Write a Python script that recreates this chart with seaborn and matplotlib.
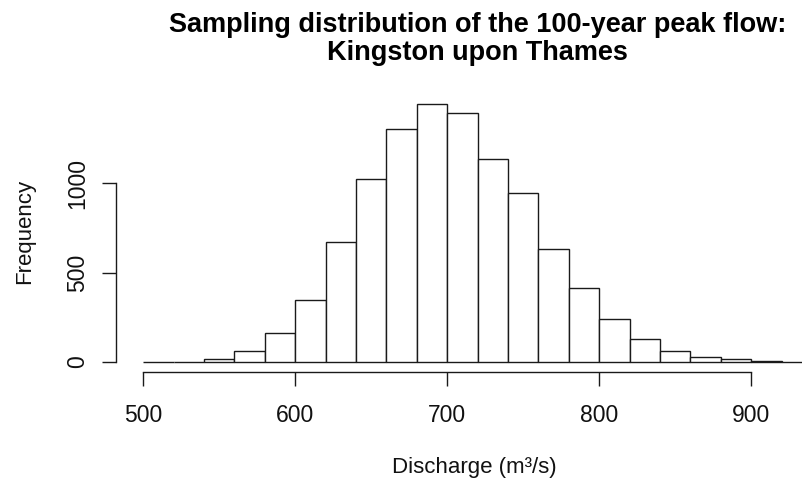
import numpy as np
import pandas as pd
import matplotlib
matplotlib.use("Agg")
import matplotlib.pyplot as plt
import seaborn as sns

# ---- data ----
bin_edges = [500, 520, 540, 560, 580, 600, 620, 640, 660, 680, 700, 720,
             740, 760, 780, 800, 820, 840, 860, 880, 900, 920, 940]
bin_mids = [510, 530, 550, 570, 590, 610, 630, 650, 670, 690, 710,
            730, 750, 770, 790, 810, 830, 850, 870, 890, 910, 930]
counts = [1, 2, 15, 60, 160, 347, 671, 1022, 1302, 1444, 1391,
          1138, 944, 631, 414, 243, 127, 60, 30, 15, 4, 1]
x_ticks = [500, 600, 700, 800, 900]
y_ticks = [0, 500, 1000]
title_text = "Sampling distribution of the 100-year peak flow:\nKingston upon Thames"
x_label = "Discharge (m\u00b3/s)"
y_label = "Frequency"

df = pd.DataFrame({"discharge": bin_mids, "count": counts})

sns.set_theme(style="white")
plt.rcParams["font.family"] = ["Liberation Sans", "DejaVu Sans"]

W, H = 803, 479
fig = plt.figure(figsize=(W / 100, H / 100), dpi=100)
fig.patch.set_facecolor("white")
ax = fig.add_axes([116.5 / W, 1 - 372.3 / H, 722.3 / W, (372.3 - 93.6) / H])

sns.histplot(data=df, x="discharge", weights="count", bins=bin_edges,
             stat="count", color="white", edgecolor="#1a1a1a", linewidth=1.0,
             alpha=1, ax=ax)

xr = bin_edges[-1] - bin_edges[0]
ax.set_xlim(bin_edges[0] - 0.04 * xr, bin_edges[-1] + 0.04 * xr)
ymax = max(counts)
ax.set_ylim(-0.04 * ymax, ymax * 1.04)

for s in ["top", "right"]:
    ax.spines[s].set_visible(False)
for s in ["left", "bottom"]:
    ax.spines[s].set_color("#1a1a1a")
    ax.spines[s].set_linewidth(1.0)
ax.spines["bottom"].set_bounds(x_ticks[0], x_ticks[-1])
ax.spines["left"].set_bounds(y_ticks[0], y_ticks[-1])

ax.set_xticks(x_ticks)
ax.set_yticks(y_ticks)
ax.tick_params(axis="both", direction="out", length=10, width=1.0,
               color="#1a1a1a", labelsize=16.5, labelcolor="#111111",
               bottom=True, left=True)
ax.tick_params(axis="x", pad=12.5)
ax.tick_params(axis="y", pad=9.5)
for lab in ax.get_yticklabels():
    lab.set_rotation(90)
    lab.set_va("center")
ax.set_xlabel("")
ax.set_ylabel("")
ax.grid(False)

fig.text(474 / W, 1 - 468 / H, x_label, ha="center", va="center",
         fontsize=16, color="#111111")
fig.text(25 / W, 1 - 231 / H, y_label, ha="center", va="center",
         rotation=90, fontsize=16, color="#111111")
fig.text(477.7 / W, 1 - 39.5 / H, title_text, ha="center", va="center",
         fontsize=19.5, fontweight="bold", color="black", linespacing=1.1)

fig.savefig("out.png", dpi=100, facecolor="white")
